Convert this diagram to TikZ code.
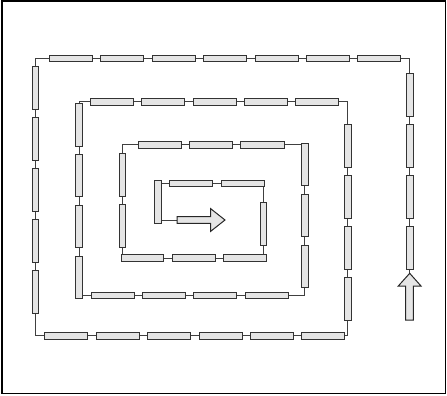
\documentclass[tikz,border=0pt]{standalone}
\begin{document}
\begin{tikzpicture}[x=1pt,y=-1pt,
  seg/.style={draw=black!75,line width=0.9pt},
  brick/.style={draw=black!80,fill=black!10,line width=1pt},
  bigarrow/.style={draw=black!85,fill=black!10,line width=1pt,line join=miter},
  frame/.style={draw=black,line width=1.8pt}]
\useasboundingbox (0,0) rectangle (447,396);
\draw[frame] (2,1) rectangle (445.5,393.5);
\newcommand{\hbrick}[3]{\draw[brick] (#1,#3-3.3) rectangle (#2,#3+3.3);}
\newcommand{\vbrick}[3]{\draw[brick] (#3-3.3,#1) rectangle (#3+3.3,#2);}
% spiral connector
\draw[seg] (409.7,275) -- (409.7,58.7) -- (35.3,58.7) -- (35.3,335.7) -- (347.7,335.7)
  -- (347.7,101.7) -- (79,101.7) -- (79,295.3) -- (304.7,295.3) -- (304.7,144.7)
  -- (122.3,144.7) -- (122.3,258) -- (263.3,258) -- (263.3,183.3) -- (158,183.3)
  -- (158,220) -- (178,220);
% outer top
\foreach \a/\b in {49.7/92.7,100.7/143.7,152.3/195.3,203.3/246.7,255/298,306/349,357.7/400.7}{\hbrick{\a}{\b}{58.7}}
% outer right
\foreach \a/\b in {73.3/116,124.7/167.3,175.7/218.3,226.7/269.3}{\vbrick{\a}{\b}{409.7}}
% outer left
\foreach \a/\b in {66.7/109.3,117.3/160,168.7/211.3,219.3/262,270.7/313.3}{\vbrick{\a}{\b}{35.3}}
% outer bottom
\foreach \a/\b in {44.3/87.3,96.3/139.3,147.3/190.3,199/242,250/293,301.3/344.3}{\hbrick{\a}{\b}{335.7}}
% ring 2 right
\foreach \a/\b in {124.3/167,175.3/218,226.3/269,277.3/320}{\vbrick{\a}{\b}{347.7}}
% ring 2 top
\foreach \a/\b in {90.3/133.3,141.3/184.3,193/236,244/287,295.3/338.3}{\hbrick{\a}{\b}{101.7}}
% ring 2 left
\foreach \a/\b in {103.3/146,154/196.7,205/247.7,256/298.7}{\vbrick{\a}{\b}{79}}
% ring 2 bottom
\foreach \a/\b in {91/134,142.3/185.3,193.3/236.3,245.3/288.3}{\hbrick{\a}{\b}{295.3}}
% ring 3 right
\foreach \a/\b in {143.3/185.7,194/236.7,245/287.3}{\vbrick{\a}{\b}{304.7}}
% ring 3 top
\foreach \a/\b in {138.3/181.3,189.3/232.3,240.7/284}{\hbrick{\a}{\b}{144.7}}
% ring 3 left
\foreach \a/\b in {153.3/196,204/247}{\vbrick{\a}{\b}{122.3}}
% ring 3 bottom
\foreach \a/\b in {121/163.7,172/215,223.3/266.3}{\hbrick{\a}{\b}{258}}
% ring 4
\vbrick{202}{245}{263.3}
\foreach \a/\b in {169.3/212.3,221/264}{\hbrick{\a}{\b}{183.3}}
\vbrick{180.7}{223.3}{158.2}
% arrows
\draw[bigarrow] (405.7,320) -- (405.7,286) -- (398.3,286) -- (409.7,273.3)
  -- (421,286) -- (413.4,286) -- (413.4,320) -- cycle;
\draw[bigarrow] (177,216.7) -- (210.7,216.7) -- (210.7,208.7) -- (225,220)
  -- (210.7,231.3) -- (210.7,223.3) -- (177,223.3) -- cycle;
\end{tikzpicture}
\end{document}
